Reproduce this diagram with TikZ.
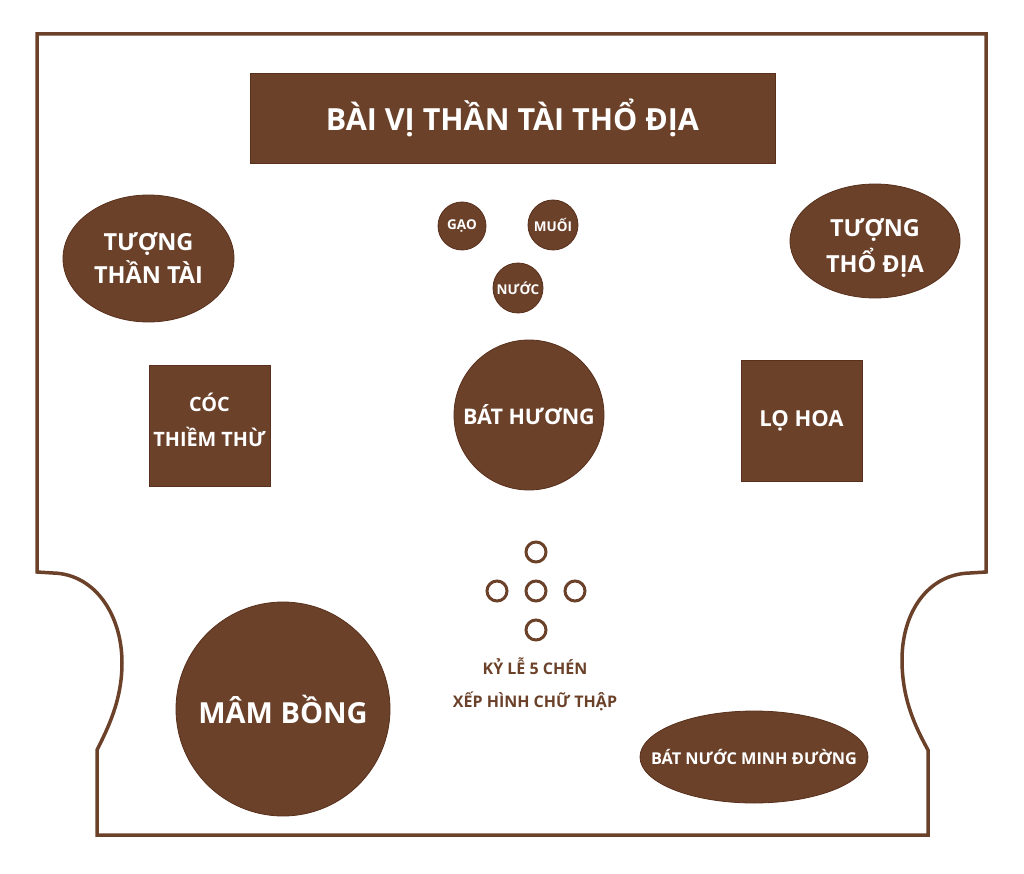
\documentclass[tikz,border=0pt]{standalone}
\usepackage{fontspec}
\setmainfont{Open Sans}
\usetikzlibrary{positioning,shapes.geometric}
\definecolor{brownfill}{RGB}{107,65,42}
\definecolor{brownline}{RGB}{88,48,28}

\begin{document}
\begin{tikzpicture}[x=1pt, y=-1pt,
    item/.style={draw=brownline, line width=0.8pt, fill=brownfill, text=white, align=center, inner sep=0pt},
    round/.style={item, circle},
    oval/.style={item, ellipse},
    box/.style={item, rectangle},
    inside/.style={text=white, align=center, inner sep=0pt},
    cup/.style={circle, draw=brownfill, line width=3pt, minimum size=20pt, inner sep=0pt},
    caption/.style={text=brownfill, font=\bfseries\fontsize{16}{18}\selectfont}]
    \useasboundingbox (0,0) rectangle (1024,874);

    % outline of the altar
    \draw [brownfill, line width=3.5pt, line join=miter]
        (37,34) -- (986,34) -- (986,572) -- (970,573)
        .. controls (928,574) and (902,612) .. (902,660)
        .. controls (902,700) and (916,728) .. (928,750)
        -- (928,835) -- (97,835) -- (97,750)
        .. controls (108,728) and (122,700) .. (122,663)
        .. controls (122,615) and (95,574) .. (53,573)
        -- (37,572) -- cycle;

    \node (baivi) [box, minimum width=525pt, minimum height=90pt, font=\bfseries\fontsize{30.5}{36}\selectfont] at (512.5,118) {BÀI VỊ THẦN TÀI THỔ ĐỊA};

    \node (thantai) [oval, minimum width=171pt, minimum height=127pt, font=\bfseries\fontsize{23.5}{33}\selectfont] at (148.5,258.5) {TƯỢNG\\THẦN TÀI};
    \node (thodia) [oval, minimum width=170pt, minimum height=114pt,
        label={[inside, yshift=-7pt, font=\bfseries\fontsize{23.5}{36}\selectfont]center:TƯỢNG\\THỔ ĐỊA}] at (875,241) {};

    \node (gao) [round, minimum size=48pt, font=\bfseries\fontsize{13.5}{15}\selectfont] at (462,226) {GẠO};
    \node (muoi) [round, minimum size=50pt, font=\bfseries\fontsize{13.5}{15}\selectfont] at (553,225) {MUỐI};
    \node (nuoc) [round, minimum size=50pt, font=\bfseries\fontsize{13.5}{15}\selectfont] at (518,288) {NƯỚC};

    \node (bathuong) [round, minimum size=150pt, font=\bfseries\fontsize{21.5}{25}\selectfont] at (529,415) {BÁT HƯƠNG};
    \node (coc) [box, minimum size=121pt,
        label={[inside, yshift=6pt, font=\bfseries\fontsize{19.8}{35}\selectfont]center:CÓC\\THIỀM THỪ}] at (209.5,425.5) {};
    \node (lohoa) [box, minimum size=121pt, font=\bfseries\fontsize{22}{26}\selectfont] at (801.5,420.5) {LỌ HOA};

    % five cups in a cross
    \node (cupmid) [cup] at (536,591) {};
    \node (cuptop) [cup, above=16pt of cupmid] {};
    \node (cupbot) [cup, below=16pt of cupmid] {};
    \node (cupleft) [cup, left=16pt of cupmid] {};
    \node (cupright) [cup, right=16pt of cupmid] {};
    \node (kyle) [caption] at (535,666) {KỶ LỄ 5 CHÉN};
    \node (xephinh) [caption] at (535,701) {XẾP HÌNH CHỮ THẬP};

    \node (mambong) [round, minimum size=214pt, font=\bfseries\fontsize{29}{34}\selectfont] at (283,709) {MÂM BỒNG};
    \node (minhduong) [oval, minimum width=228pt, minimum height=92pt,
        label={[inside, font=\bfseries\fontsize{16.3}{20}\selectfont]center:BÁT NƯỚC MINH ĐƯỜNG}] at (754,757) {};
\end{tikzpicture}
\end{document}
